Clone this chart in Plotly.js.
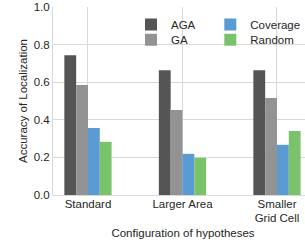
<!DOCTYPE html>
<html><head><meta charset="utf-8">
<script src="https://cdn.plot.ly/plotly-3.0.1.min.js"></script>
<style>html,body{margin:0;padding:0;background:#fff;overflow:hidden;width:305px;height:240px}</style>
</head><body>
<div id="chart" style="width:313px;height:240px"></div>
<script>
var categories = ["Standard", "Larger Area", "Smaller<br>Grid Cell"];
var agaValues = [0.744, 0.664, 0.664];
var gaValues = [0.585, 0.452, 0.516];
var coverageValues = [0.357, 0.219, 0.267];
var randomValues = [0.283, 0.198, 0.341];
var yTicks = [0, 0.2, 0.4, 0.6, 0.8, 1.0];
var yTickLabels = ["0.0", "0.2", "0.4", "0.6", "0.8", "1.0"];

var font = {family: "Liberation Sans, Arial, sans-serif", size: 11.5, color: "#262626"};
var traces = [
  {type: "bar", name: "AGA", x: categories, y: agaValues, marker: {color: "#555555"}, legend: "legend"},
  {type: "bar", name: "GA", x: categories, y: gaValues, marker: {color: "#939393"}, legend: "legend3"},
  {type: "bar", name: "Coverage", x: categories, y: coverageValues, marker: {color: "#5a9bd4"}, legend: "legend2"},
  {type: "bar", name: "Random", x: categories, y: randomValues, marker: {color: "#7ac36a"}, legend: "legend4"}
];
function leg(x, y) {
  return {orientation: "v", bgcolor: "rgba(0,0,0,0)", font: font, yanchor: "top", y: y, xanchor: "left", x: x, itemwidth: 30};
}
var layout = {
  width: 313, height: 240,
  margin: {l: 53, r: 0, t: 7, b: 45},
  paper_bgcolor: "#fff", plot_bgcolor: "#fff",
  font: font,
  barmode: "group", bargap: 0.5, bargroupgap: 0,
  showlegend: true,
  legend: leg(0.30, 0.984),
  legend3: leg(0.30, 0.903),
  legend2: leg(0.605, 0.984),
  legend4: leg(0.605, 0.903),
  xaxis: {
    type: "category", range: [-0.37, 2.381],
    showgrid: true, gridcolor: "#d9d9d9", gridwidth: 1,
    showline: false, zeroline: false, ticks: "", ticklen: 0,
    tickfont: font,
    title: {text: "Configuration of hypotheses", font: font, standoff: 5}
  },
  yaxis: {
    range: [0, 1.0], tickvals: yTicks, ticktext: yTickLabels,
    showgrid: true, gridcolor: "#d9d9d9", gridwidth: 1,
    showline: true, linecolor: "#d9d9d9", linewidth: 1,
    zeroline: true, zerolinecolor: "#d9d9d9", zerolinewidth: 1,
    ticks: "", tickfont: font,
    title: {text: "Accuracy of Localization", font: font, standoff: 3}
  }
};
Plotly.newPlot("chart", traces, layout, {displayModeBar: false, staticPlot: true});
</script>
</body></html>
